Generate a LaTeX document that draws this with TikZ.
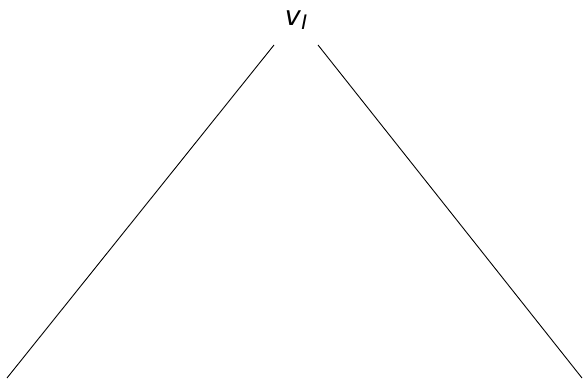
\documentclass[tikz,border=0pt]{standalone}
\usepackage{fontspec}
\setsansfont{DejaVu Sans}
\begin{document}
\begin{tikzpicture}[x=1pt,y=-1pt,
  edge/.style={line width=0.9pt, black},
  lbl/.style={font=\fontsize{27}{30}\selectfont\sffamily\itshape, inner sep=0pt}]
\useasboundingbox (0,0) rectangle (583,379);
\node[lbl] (v) at (296,20) {v\kern0.5pt\raisebox{-0.25ex}{\fontsize{20}{22}\selectfont I}};
\coordinate (lt) at (274,45);
\coordinate (lb) at (7,378);
\coordinate (rt) at (318,45);
\coordinate (rb) at (582,378);
\draw[edge] (lt) -- (lb);
\draw[edge] (rt) -- (rb);
\end{tikzpicture}
\end{document}
